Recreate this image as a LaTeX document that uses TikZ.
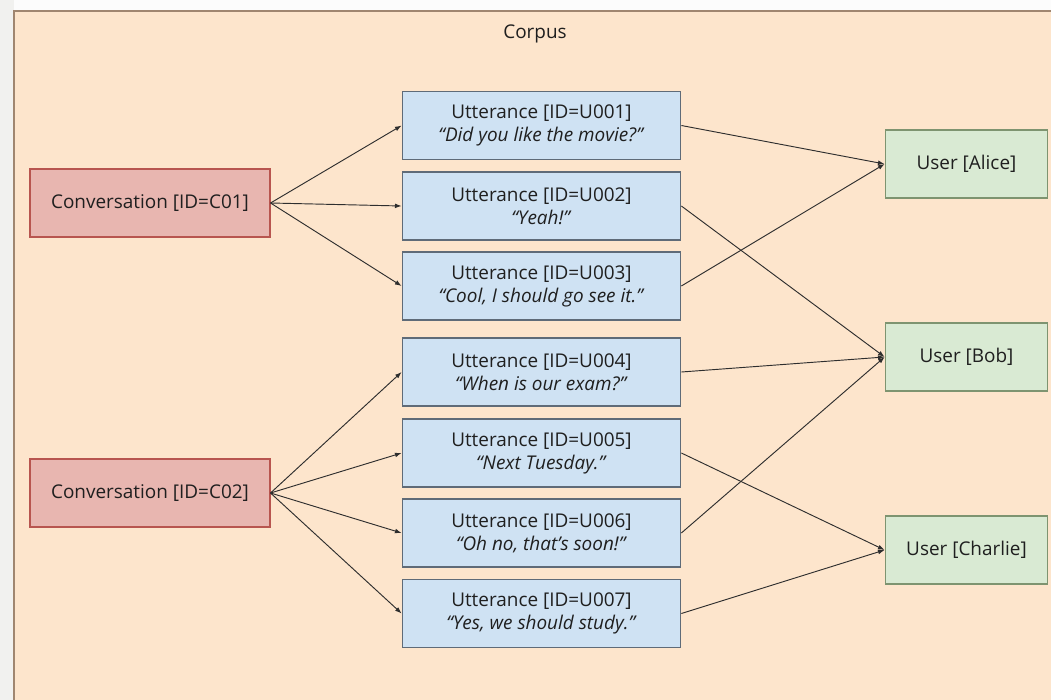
\documentclass[tikz,border=0pt]{standalone}
\usepackage{fontspec}
\setmainfont{Open Sans}
\usetikzlibrary{arrows.meta}

\definecolor{pagegray}{HTML}{F1F1EF}
\definecolor{corpusfill}{HTML}{FDE5CC}
\definecolor{corpusline}{HTML}{A08670}
\definecolor{convfill}{HTML}{E8B6B0}
\definecolor{convline}{HTML}{B8554F}
\definecolor{uttfill}{HTML}{CFE2F3}
\definecolor{uttline}{HTML}{5F6B78}
\definecolor{userfill}{HTML}{D9EAD3}
\definecolor{userline}{HTML}{7E9470}
\definecolor{linkcol}{HTML}{2E2E2E}

\begin{document}
\begin{tikzpicture}[x=0.75pt,y=0.75pt,yscale=-1,xscale=1,
  every node/.style={font=\fontsize{14.2}{17.3}\selectfont, inner sep=0pt, align=center, text=black!88},
  conv/.style={draw=convline, fill=convfill, line width=0.8pt, minimum width=180pt, minimum height=51pt},
  utt/.style={draw=uttline, fill=uttfill, line width=0.8pt, minimum width=209pt, minimum height=51pt},
  user/.style={draw=userline, fill=userfill, line width=0.8pt, minimum width=122pt, minimum height=51pt},
  link/.style={draw=linkcol, line width=0.7pt, -{Latex[length=5pt,width=3.6pt]}}]
		% Set diagram size to the reference page
		\useasboundingbox (0,0) rectangle (1051,700);

		% Page background and the corpus frame
		\fill[white!98!gray] (0,0) rectangle (1051,700);
		\fill[pagegray] (0,0) rectangle (14,700);
		\draw[corpusline, fill=corpusfill, line width=0.9pt] (14,11) rectangle (1062,712);
		\node (corpus) at (535,34) {Corpus};

		% Conversations
		\node[conv] (c01) at (150,203) {Conversation [ID=C01]};
		\node[conv] (c02) at (150,493) {Conversation [ID=C02]};

		% Utterances
		\node[utt] (u001) at (541.5,125.5) {Utterance [ID=U001]\\\textit{“Did you like the movie?”}};
		\node[utt] (u002) at (541.5,206) {Utterance [ID=U002]\\\textit{“Yeah!”}};
		\node[utt] (u003) at (541.5,286) {Utterance [ID=U003]\\\textit{“Cool, I should go see it.”}};
		\node[utt] (u004) at (541.5,372) {Utterance [ID=U004]\\\textit{“When is our exam?”}};
		\node[utt] (u005) at (541.5,453) {Utterance [ID=U005]\\\textit{“Next Tuesday.”}};
		\node[utt] (u006) at (541.5,533) {Utterance [ID=U006]\\\textit{“Oh no, that’s soon!”}};
		\node[utt] (u007) at (541.5,613.5) {Utterance [ID=U007]\\\textit{“Yes, we should study.”}};

		% Users
		\node[user] (alice) at (966.5,164) {User [Alice]};
		\node[user] (bob) at (966.5,357) {User [Bob]};
		\node[user] (charlie) at (966.5,550) {User [Charlie]};

		% Conversation -> utterance links
		\foreach \u in {u001,u002,u003}
			\draw[link] (c01.east) -- (\u.west);
		\foreach \u in {u004,u005,u006,u007}
			\draw[link] (c02.east) -- (\u.west);

		% Utterance -> speaker links
		\draw[link] (u001.east) -- (alice.west);
		\draw[link] (u003.east) -- (alice.west);
		\draw[link] (u002.east) -- (bob.west);
		\draw[link] (u004.east) -- (bob.west);
		\draw[link] (u006.east) -- (bob.west);
		\draw[link] (u005.east) -- (charlie.west);
		\draw[link] (u007.east) -- (charlie.west);
	\end{tikzpicture}
\end{document}
